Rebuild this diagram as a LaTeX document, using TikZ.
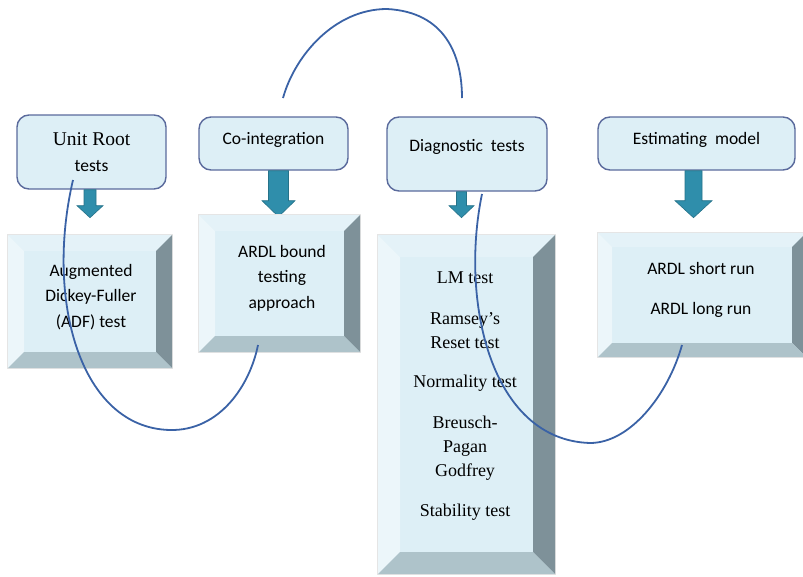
\documentclass[tikz,border=0pt]{standalone}
\usepackage{fontspec}
\setmainfont{Liberation Serif}
\setsansfont{Carlito}
\usepackage{xcolor}
\usetikzlibrary{calc,positioning}
\definecolor{facecol}{HTML}{DDEFF6}
\definecolor{topcol}{HTML}{E4F2F8}
\definecolor{leftcol}{HTML}{ECF6FA}
\definecolor{rightcol}{HTML}{7E9199}
\definecolor{bottomcol}{HTML}{AEC3CA}
\definecolor{framecol}{HTML}{5A6A9C}
\definecolor{arrowcol}{HTML}{2F8EAB}
\definecolor{linkcol}{HTML}{3A62A6}
% #1 start, #2 length, #3 head length, #4 shaft half width, #5 head half width
\newcommand\blockarrow[5]{%
  \filldraw[fill=arrowcol, draw=arrowcol!80!black, line width=0.6pt]
    ($#1+(-#4,0)$) -- ++(2*#4,0) -- ++(0,#2-#3) -- ++(#5-#4,0)
    -- ($#1+(0,#2)$) -- ($#1+(-#5,#2-#3)$) -- ++(#5-#4,0) -- cycle;}
% #1 node, #2 bevel width
\newcommand\bevel[2]{%
  \fill[topcol] (#1.north west) -- (#1.north east) -- ($(#1.north east)+(-#2,#2)$) -- ($(#1.north west)+(#2,#2)$) -- cycle;
  \fill[leftcol] (#1.north west) -- ($(#1.north west)+(#2,#2)$) -- ($(#1.south west)+(#2,-#2)$) -- (#1.south west) -- cycle;
  \fill[rightcol] (#1.north east) -- (#1.south east) -- ($(#1.south east)+(-#2,-#2)$) -- ($(#1.north east)+(-#2,#2)$) -- cycle;
  \fill[bottomcol] (#1.south west) -- (#1.south east) -- ($(#1.south east)+(-#2,-#2)$) -- ($(#1.south west)+(#2,-#2)$) -- cycle;}

\begin{document}
\begin{tikzpicture}[x=1pt, y=-1pt,
    topbox/.style={draw=framecol, line width=1.4pt, fill=facecol, rounded corners=12pt,
      inner sep=0pt, align=center, font=\sffamily\fontsize{17.5}{26}\selectfont},
    bevelbox/.style={fill=facecol, draw=black!10, line width=2.5pt, inner sep=0pt, outer sep=0pt,
      align=center, font=\sffamily\fontsize{17.5}{25.5}\selectfont},
    sanstext/.style={font=\sffamily\fontsize{17.5}{25.5}\selectfont, align=center},
    seriftext/.style={font=\rmfamily\fontsize{18}{24}\selectfont, align=center},
    link/.style={draw=linkcol, line width=1.8pt}]
  \useasboundingbox (0,0) rectangle (803,576);
  \begin{scope}
    \clip (0,0) rectangle (803,576);
    % top boxes
    \node[topbox, minimum width=149pt, minimum height=74pt] (unitroot) at (91.5,152)
      {{\rmfamily\fontsize{19.5}{26}\selectfont Unit Root}\\tests};
    \node[topbox, minimum width=149pt, minimum height=53pt, text height=12pt, text depth=11pt]
      (coint) at (273.5,143.5) {Co-integration};
    \node[topbox, minimum width=160pt, minimum height=74pt, text height=12pt, text depth=18pt]
      (diagtop) at (467,154) {Diagnostic\ \ tests};
    \node[topbox, minimum width=197pt, minimum height=53pt, text height=12pt, text depth=11pt]
      (estim) at (696.5,143.5) {Estimating\ \ model};
    % arrows down
    \blockarrow{(unitroot.south)+(-1.5,0)}{28}{12}{6}{13}
    \blockarrow{(coint.south)+(5,0)}{46}{16}{10}{16.5}
    \blockarrow{(diagtop.south)+(-5.5,0)}{26}{12}{5}{12.5}
    \blockarrow{(estim.south)+(-3,0)}{47}{17}{8.5}{18.5}
    % bevelled boxes
    \node[bevelbox, minimum width=164pt, minimum height=133pt] (adf) at (90,301.5) {};
    \bevel{adf}{16}
    \node[sanstext] (adftext) at (91,297) {Augmented\\Dickey-Fuller\\(ADF) test};
    \node[bevelbox, minimum width=161pt, minimum height=137pt] (ardl) at (279.5,283.5) {};
    \bevel{ardl}{16}
    \node[sanstext] (ardltext) at (282,278) {ARDL bound\\testing\\approach};
    \node[bevelbox, minimum width=177pt, minimum height=339pt] (diag) at (466.5,404.5) {};
    \bevel{diag}{22}
    \node[seriftext] (lm) at (465,278) {LM test};
    \node[seriftext] (ramsey) at (465,331) {Ramsey’s\\Reset test};
    \node[seriftext] (normal) at (465,383) {Normality test};
    \node[seriftext] (breusch) at (465,448) {Breusch-\\Pagan\\Godfrey};
    \node[seriftext] (stable) at (465,512) {Stability test};
    \node[bevelbox, minimum width=208pt, minimum height=124pt] (ardlrun) at (702,295) {};
    \bevel{ardlrun}{14}
    \node[sanstext] (short) at (701,268) {ARDL short run};
    \node[sanstext] (long) at (701,310) {ARDL long run};
    % curved links
    \coordinate (rootend) at (73,180);
    \coordinate (ardlend) at (258,345);
    \coordinate (arcleft) at (283,98);
    \coordinate (arcright) at (462,98);
    \coordinate (diagend) at (482,194);
    \coordinate (runend) at (682,345);
    \draw[link] (rootend) .. controls (45,300) and (80,428) .. (170,430)
      .. controls (220,431) and (250,385) .. (ardlend);
    \draw[link] (arcleft) .. controls (295,55) and (335,9) .. (387,9)
      .. controls (445,12) and (462,55) .. (arcright);
    \draw[link] (diagend) .. controls (460,300) and (490,440) .. (590,443)
      .. controls (630,443) and (668,395) .. (runend);
  \end{scope}
\end{tikzpicture}
\end{document}
